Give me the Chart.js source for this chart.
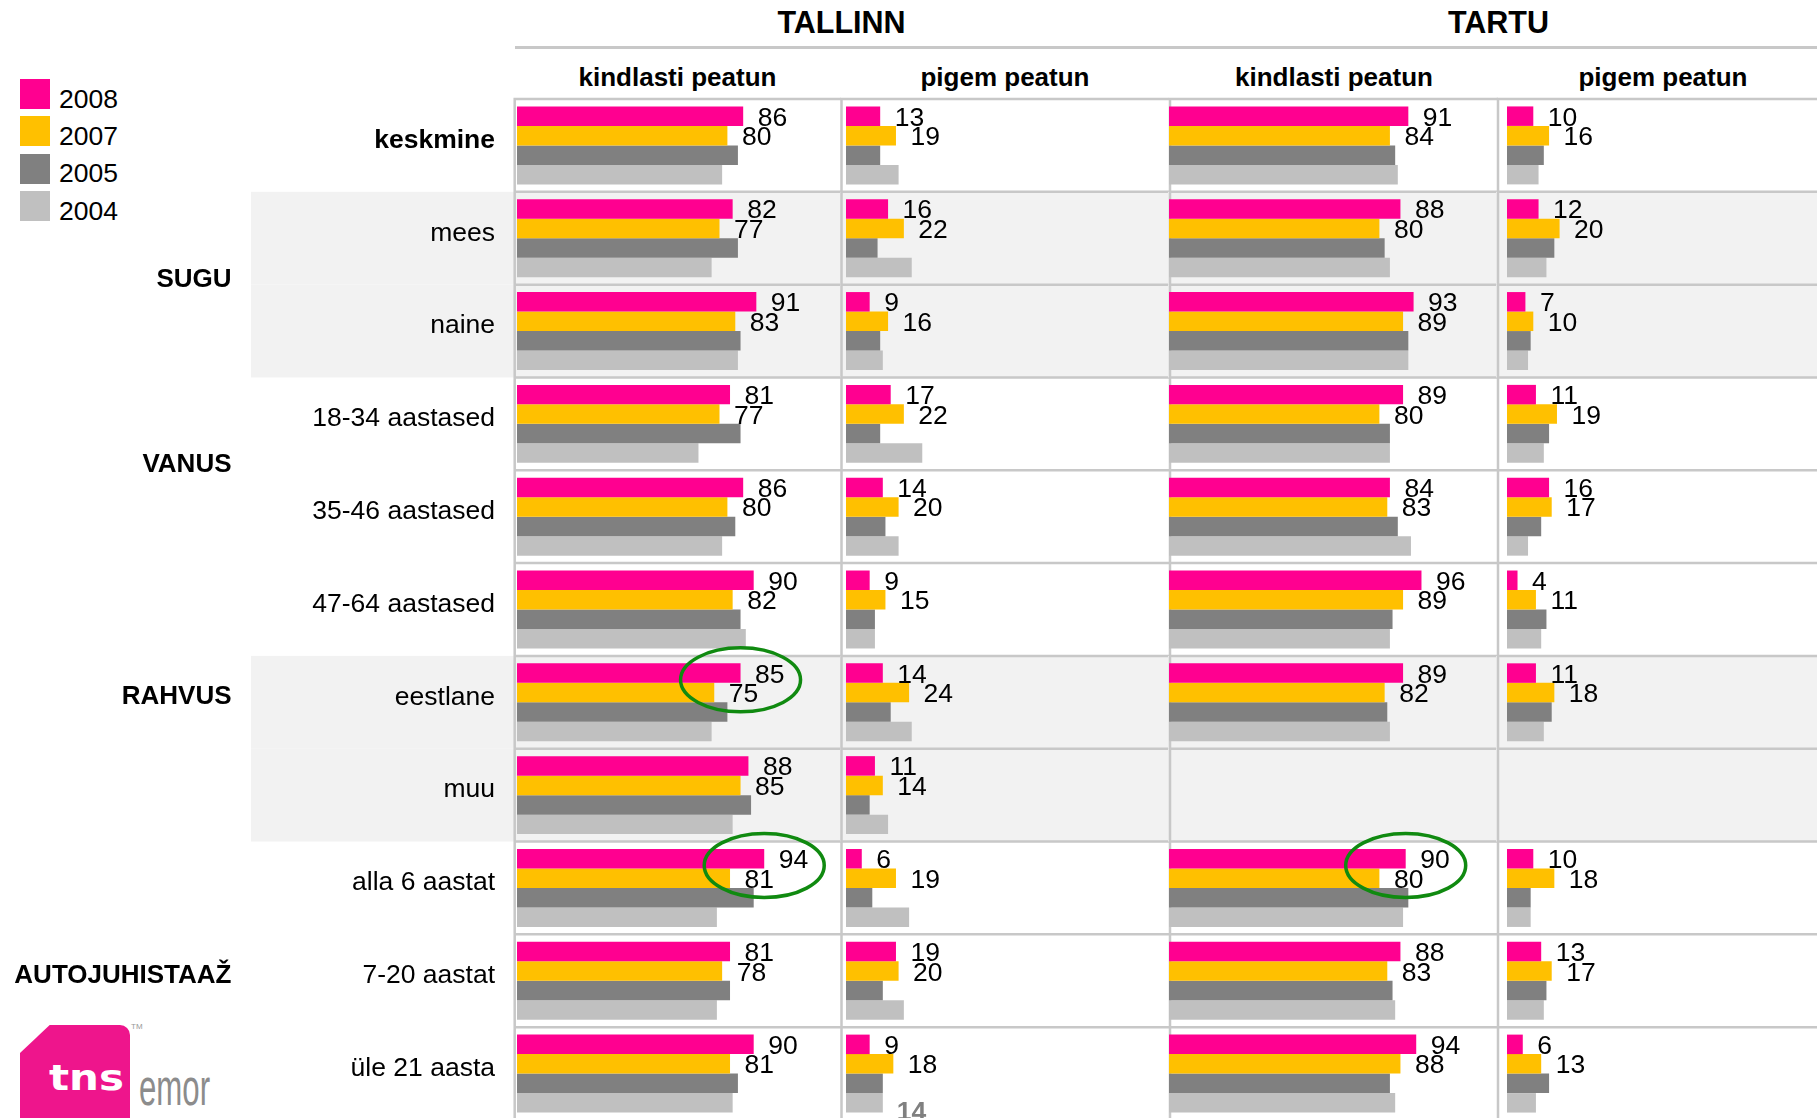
<!DOCTYPE html>
<html lang="et">
<head>
<meta charset="utf-8">
<title>Tallinn / Tartu</title>
<script src="https://cdn.jsdelivr.net/npm/chart.js@4.4.1/dist/chart.umd.min.js"></script>
<style>
  html, body { margin: 0; padding: 0; width: 1817px; height: 1118px; overflow: hidden; background: #fff; }
  body { font-family: "Liberation Sans", Arial, sans-serif; color: #000; }
  #lienzo { position: relative; width: 1817px; height: 1118px; overflow: hidden; }
  #lienzo canvas { position: absolute; top: 97px; }
  .txt { position: absolute; white-space: nowrap; }
  .ciudad { font-weight: bold; font-size: 30.5px; line-height: 30.5px; top: 7px; text-align: center; width: 600px; }
  .cabecera { font-weight: bold; font-size: 26px; line-height: 26px; top: 64px; text-align: center; width: 320px; }
  .linea { position: absolute; background: #C8C8C8; }
  .muestra { position: absolute; left: 20px; width: 30px; height: 30px; }
  .anio { font-size: 26.5px; line-height: 26.5px; left: 59px; }
  #logo-forma { position: absolute; left: 20px; top: 1025px; width: 110px; height: 100px; background: #EE158C;
    border-top-right-radius: 10px; clip-path: polygon(27% 0, 100% 0, 100% 100%, 0 100%, 0 28%); }
  #logo-tns { position: absolute; left: 49px; top: 1061px; font-family: "DejaVu Sans", sans-serif; font-weight: bold;
    font-size: 35px; line-height: 35px; color: #fff; transform: scaleX(1.2); transform-origin: left top; }
  #logo-emor { position: absolute; left: 139px; top: 1061px; font-size: 52px; line-height: 52px; color: #8C8C8C;
    transform: scaleX(0.6); transform-origin: left top; }
  #logo-tm { position: absolute; left: 131px; top: 1022px; font-size: 8px; color: #999; }
</style>
</head>
<body>
<div id="lienzo">
  <div class="linea" style="left:515px; top:46px; width:1302px; height:3px;"></div>
  <div id="logo-forma"></div>
  <div id="logo-tns">tns</div>
  <div id="logo-emor">emor</div>
  <div id="logo-tm">TM</div>
</div>
<script>
// Categorías (filas) y años (series).
const categorias = ["keskmine", "mees", "naine", "18-34 aastased", "35-46 aastased", "47-64 aastased",
                    "eestlane", "muu", "alla 6 aastat", "7-20 aastat", "üle 21 aasta"];
const anios = ["2008", "2007", "2005", "2004"];
const colores = ["#FF0090", "#FFC000", "#808080", "#C0C0C0"];
const ciudades = ["TALLINN", "TARTU"];
const cabeceras = ["kindlasti peatun", "pigem peatun", "kindlasti peatun", "pigem peatun"];

// Grupos de filas y su posición (en filas desde arriba).
const grupos = ["SUGU", "VANUS", "RAHVUS", "AUTOJUHISTAAŽ"];
const posGrupos = [2, 4, 6.5, 9.5];
const filasSombreadas = [1, 2, 6, 7];

// Tallinn – kindlasti peatun
const tallinnKindel2008 = [86, 82, 91, 81, 86, 90, 85, 88, 94, 81, 90];
const tallinnKindel2007 = [80, 77, 83, 77, 80, 82, 75, 85, 81, 78, 81];
const tallinnKindel2005 = [84, 84, 85, 85, 83, 85, 80, 89, 90, 81, 84];
const tallinnKindel2004 = [78, 74, 84, 69, 78, 87, 74, 82, 76, 76, 82];

// Tallinn – pigem peatun
const tallinnPigem2008 = [13, 16, 9, 17, 14, 9, 14, 11, 6, 19, 9];
const tallinnPigem2007 = [19, 22, 16, 22, 20, 15, 24, 14, 19, 20, 18];
const tallinnPigem2005 = [13, 12, 13, 13, 15, 11, 17, 9, 10, 14, 14];
const tallinnPigem2004 = [20, 25, 14, 29, 20, 11, 25, 16, 24, 22, 14];

// Tartu – kindlasti peatun (sin datos para "muu")
const tartuKindel2008 = [91, 88, 93, 89, 84, 96, 89, null, 90, 88, 94];
const tartuKindel2007 = [84, 80, 89, 80, 83, 89, 82, null, 80, 83, 88];
const tartuKindel2005 = [86, 82, 91, 84, 87, 85, 83, null, 91, 85, 84];
const tartuKindel2004 = [87, 84, 91, 84, 92, 84, 84, null, 89, 86, 86];

// Tartu – pigem peatun
const tartuPigem2008 = [10, 12, 7, 11, 16, 4, 11, null, 10, 13, 6];
const tartuPigem2007 = [16, 20, 10, 19, 17, 11, 18, null, 18, 17, 13];
const tartuPigem2005 = [14, 18, 9, 16, 13, 15, 17, null, 9, 15, 16];
const tartuPigem2004 = [12, 15, 8, 14, 8, 13, 14, null, 9, 14, 11];

const seriesPorColumna = [
  [tallinnKindel2008, tallinnKindel2007, tallinnKindel2005, tallinnKindel2004],
  [tallinnPigem2008, tallinnPigem2007, tallinnPigem2005, tallinnPigem2004],
  [tartuKindel2008, tartuKindel2007, tartuKindel2005, tartuKindel2004],
  [tartuPigem2008, tartuPigem2007, tartuPigem2005, tartuPigem2004]
];

// Círculos verdes (columna, fila) y la etiqueta suelta de 2004.
const resaltados = [[0, 6], [0, 8], [2, 8]];
const etiquetaSuelta = { columna: 1, serie: 3, fila: 10 };

// Disposición de cada panel.
const FUENTE = "'Liberation Sans', Arial, sans-serif";
const PX_POR_UNIDAD = 2.63;
const paneles = [
  { izq: 0,    ancho: 841, pad: 0,  ejeY: 517, lineaX: 514.7, sombra: 251, centro: 677.5 },
  { izq: 840,  ancho: 329, pad: 6,  ejeY: 0,   lineaX: 1.5,   sombra: 0,   centro: 1005 },
  { izq: 1168, ancho: 330, pad: 1,  ejeY: 0,   lineaX: 2,     sombra: 0,   centro: 1334 },
  { izq: 1496, ancho: 321, pad: 11, ejeY: 0,   lineaX: 2,     sombra: 0,   centro: 1663 }
];
const centrosCiudad = [841.5, 1498.5];

Chart.defaults.font.family = FUENTE;
const lienzo = document.getElementById("lienzo");

// Textos de cabecera y leyenda.
ciudades.forEach((c, i) => {
  const d = document.createElement("div");
  d.className = "txt ciudad";
  d.textContent = c;
  d.style.left = (centrosCiudad[i] - 300) + "px";
  lienzo.appendChild(d);
});
cabeceras.forEach((c, i) => {
  const d = document.createElement("div");
  d.className = "txt cabecera";
  d.textContent = c;
  d.style.left = (paneles[i].centro - 160) + "px";
  lienzo.appendChild(d);
});
anios.forEach((a, k) => {
  const top = 79 + k * 37.3;
  const m = document.createElement("div");
  m.className = "muestra";
  m.style.top = top + "px";
  m.style.background = colores[k];
  lienzo.appendChild(m);
  const t = document.createElement("div");
  t.className = "txt anio";
  t.style.top = (top + 6.6) + "px";
  t.textContent = a;
  lienzo.appendChild(t);
});

// Fondo sombreado, rejilla, etiquetas de valor y círculos.
const rejilla = {
  id: "rejilla",
  beforeDraw(chart, _a, o) {
    const { ctx, scales: { y } } = chart;
    const banda = (y.bottom - y.top) / categorias.length;
    ctx.save();
    ctx.fillStyle = "#F2F2F2";
    filasSombreadas.forEach(i => ctx.fillRect(o.sombra, y.top + i * banda, chart.width - o.sombra, banda));
    ctx.restore();
  },
  beforeDatasetsDraw(chart, _a, o) {
    const { ctx, scales: { y } } = chart;
    const banda = (y.bottom - y.top) / categorias.length;
    ctx.save();
    ctx.strokeStyle = "#C8C8C8";
    ctx.lineWidth = 2.5;
    ctx.beginPath();
    for (let i = 0; i <= categorias.length; i++) {
      const yy = y.top + i * banda;
      ctx.moveTo(o.lineaX - 1.25, yy);
      ctx.lineTo(chart.width, yy);
    }
    ctx.moveTo(o.lineaX, y.top - 1.25);
    ctx.lineTo(o.lineaX, chart.height);
    ctx.stroke();
    ctx.restore();
  },
  afterDatasetsDraw(chart, _a, o) {
    const { ctx } = chart;
    ctx.save();
    ctx.textAlign = "left";
    ctx.textBaseline = "alphabetic";
    // valores de 2008 y 2007
    ctx.font = "26.5px " + FUENTE;
    ctx.fillStyle = "#000";
    [0, 1].forEach(d => {
      chart.getDatasetMeta(d).data.forEach((bar, i) => {
        const v = chart.data.datasets[d].data[i];
        if (v == null) return;
        ctx.fillText(String(v), bar.x + 14.5, bar.y + 9.5);
      });
    });
    // etiqueta suelta
    if (o.indice === etiquetaSuelta.columna) {
      const bar = chart.getDatasetMeta(etiquetaSuelta.serie).data[etiquetaSuelta.fila];
      const v = chart.data.datasets[etiquetaSuelta.serie].data[etiquetaSuelta.fila];
      ctx.font = "bold 26.5px " + FUENTE;
      ctx.fillStyle = "#808080";
      ctx.fillText(String(v), bar.x + 14, bar.y + 17.5);
    }
    // círculos verdes
    ctx.strokeStyle = "#108A10";
    ctx.lineWidth = 3.5;
    resaltados.filter(r => r[0] === o.indice).forEach(r => {
      const bar = chart.getDatasetMeta(0).data[r[1]];
      ctx.beginPath();
      ctx.ellipse(bar.x, bar.y + bar.height / 2 - 3, 60, 32, 0, 0, Math.PI * 2);
      ctx.stroke();
    });
    // etiquetas de grupo (sólo primer panel)
    if (o.indice === 0) {
      const y = chart.scales.y;
      const banda = (y.bottom - y.top) / categorias.length;
      ctx.font = "bold 26px " + FUENTE;
      ctx.fillStyle = "#000";
      ctx.textAlign = "right";
      grupos.forEach((g, i) => ctx.fillText(g, 231.5, y.top + posGrupos[i] * banda + 2));
    }
    ctx.restore();
  }
};

function renderPanel(indice) {
  const p = paneles[indice];
  const canvas = document.createElement("canvas");
  canvas.width = p.ancho;
  canvas.height = 1025;
  canvas.style.left = p.izq + "px";
  lienzo.appendChild(canvas);
  const anchoArea = p.ancho - p.pad - p.ejeY;
  new Chart(canvas, {
    type: "bar",
    data: {
      labels: categorias,
      datasets: anios.map((a, k) => ({
        label: a,
        data: seriesPorColumna[indice][k],
        backgroundColor: colores[k],
        borderWidth: 0,
        categoryPercentage: 0.84,
        barPercentage: 1
      }))
    },
    options: {
      indexAxis: "y",
      responsive: false,
      animation: false,
      layout: { padding: { left: p.pad, right: 0, top: 2, bottom: 2 } },
      plugins: {
        legend: { display: false },
        tooltip: { enabled: false },
        rejilla: { indice, lineaX: p.lineaX, sombra: p.sombra }
      },
      scales: {
        x: { display: false, min: 0, max: anchoArea / PX_POR_UNIDAD },
        y: {
          display: indice === 0,
          grid: { display: false, drawTicks: false },
          border: { display: false },
          ticks: {
            padding: 22,
            labelOffset: -5,
            color: "#000",
            font: c => ({ size: 26.5, weight: c.index === 0 ? "bold" : "normal" })
          },
          afterFit: s => { s.width = p.ejeY; s.paddingTop = 0; s.paddingBottom = 0; }
        }
      }
    },
    plugins: [rejilla]
  });
}

paneles.forEach((_, i) => renderPanel(i));
</script>
</body>
</html>
